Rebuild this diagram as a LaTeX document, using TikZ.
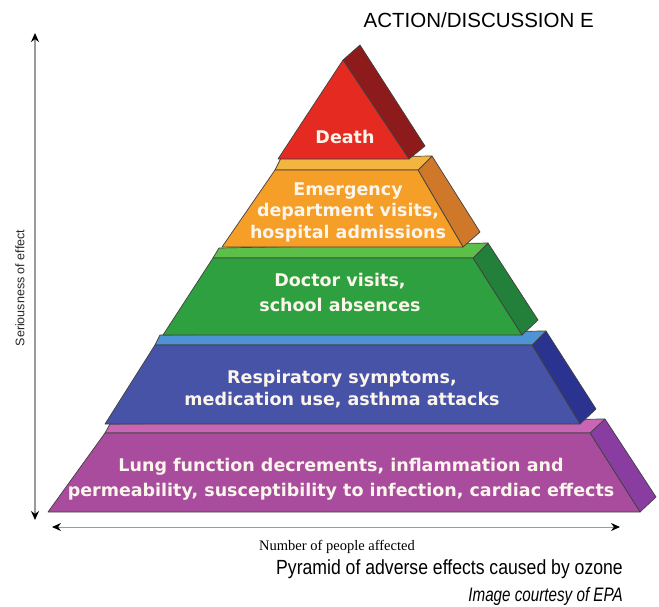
\documentclass[tikz,border=0pt]{standalone}
\usepackage{fontspec}
\setmainfont{Liberation Sans}
\newfontfamily\tierfont{DejaVu Sans}
\newfontfamily\axisserif{Liberation Serif}
\newfontfamily\capfont{Liberation Sans}[FakeStretch=0.86]
\newfontfamily\creditfont{Liberation Sans}[FakeStretch=0.78]
\usetikzlibrary{arrows.meta}

% tier colours: front face, top strip, side face
\definecolor{redF}{HTML}{E52A21}
\definecolor{redS}{HTML}{8E1B1B}
\definecolor{oraF}{HTML}{F59E28}
\definecolor{oraT}{HTML}{F2B540}
\definecolor{oraS}{HTML}{D0782A}
\definecolor{grnF}{HTML}{2EA03F}
\definecolor{grnT}{HTML}{5BBF4A}
\definecolor{grnS}{HTML}{23803A}
\definecolor{bluF}{HTML}{4653A6}
\definecolor{bluT}{HTML}{4E93D4}
\definecolor{bluS}{HTML}{2B3390}
\definecolor{purF}{HTML}{A94C9E}
\definecolor{purT}{HTML}{C865B5}
\definecolor{purS}{HTML}{8A3DA0}
\definecolor{labelwhite}{HTML}{FBF5EC}
\definecolor{axisgray}{HTML}{9A9A9A}

\tikzset{
  face/.style={draw=black!75, line width=0.7pt, line join=round, fill=#1},
  tierlabel/.style={font=\tierfont\bfseries\fontsize{17.5}{21.5}\selectfont,
    text=labelwhite, align=center, inner sep=0pt},
  axisline/.style={draw=axisgray, line width=1.4pt},
  axtip/.tip={Stealth[length=9pt,width=8pt,black]},
}

\begin{document}
\begin{tikzpicture}[x=1pt,y=-1pt]
\useasboundingbox (0,0) rectangle (659,606);

% ---- bottom tier (purple)
\path[face=purS] (590,433) -- (605,419) -- (656,497) -- (640,512) -- cycle;
\path[face=purT] (105,433) -- (110,424) -- (605,419) -- (590,433) -- cycle;
\path[face=purF] (48,512) -- (105,433) -- (590,433) -- (640,512) -- cycle;

% ---- fourth tier (blue)
\path[face=bluS] (532,345) -- (546,331) -- (596,409) -- (580,424) -- cycle;
\path[face=bluT] (155,345) -- (160,335) -- (546,331) -- (532,345) -- cycle;
\path[face=bluF] (105,424) -- (155,345) -- (532,345) -- (580,424) -- cycle;

% ---- third tier (green)
\path[face=grnS] (473,258) -- (488,243) -- (538,320) -- (522,335) -- cycle;
\path[face=grnT] (213,258) -- (219,248) -- (488,243) -- (473,258) -- cycle;
\path[face=grnF] (163,335) -- (213,258) -- (473,258) -- (522,335) -- cycle;

% ---- second tier (orange)
\path[face=oraS] (418,170) -- (432,156) -- (480,232) -- (463,247) -- cycle;
\path[face=oraT] (275,170) -- (281,158) -- (432,156) -- (418,170) -- cycle;
\path[face=oraF] (222,247) -- (275,170) -- (418,170) -- (463,247) -- cycle;

% ---- apex (red)
\path[face=redS] (343,60) -- (360,45) -- (425,146) -- (409,159) -- cycle;
\path[face=redF] (278,159) -- (343,60) -- (409,159) -- cycle;

% ---- tier labels
\node[tierlabel] (death) at (345,137) {Death};
\node[tierlabel] (emerg) at (348,212) {Emergency\\department visits,\\hospital admissions};
\node[tierlabel, font=\tierfont\bfseries\fontsize{17.5}{25}\selectfont] (doctor) at (340,292) {Doctor visits,\\school absences};
\node[tierlabel] (resp) at (342,389) {Respiratory symptoms,\\medication use, asthma attacks};
\node[tierlabel, font=\tierfont\bfseries\fontsize{17.5}{25}\selectfont] (lung) at (341,479) {Lung function decrements, inflammation and\\permeability, susceptibility to infection, cardiac effects};

% ---- axes
\coordinate (vtop) at (35,33);
\coordinate (vbot) at (35,520);
\coordinate (hleft) at (52,527);
\coordinate (hright) at (620,527);
\draw[axisline, axtip-axtip] (vbot) -- (vtop);
\draw[axisline, line width=1pt, axtip-axtip] (hleft) -- (hright);

\node[rotate=90, font=\fontsize{12.5}{14}\selectfont, text=black!85] (ylab) at (20,288) {Seriousness of effect};
\node[font=\axisserif\fontsize{14.5}{16}\selectfont] (xlab) at (337,547) {Number of people affected};

% ---- heading and caption
\node[font=\fontsize{20.5}{22}\selectfont, anchor=east, inner sep=0pt] (head) at (594,20) {ACTION/DISCUSSION E};
\node[font=\capfont\fontsize{20.5}{22}\selectfont, anchor=east, inner sep=0pt] (cap) at (623,569) {Pyramid of adverse effects caused by ozone};
\node[font=\creditfont\itshape\fontsize{19.5}{22}\selectfont, anchor=east, inner sep=0pt] (credit) at (623,596) {Image courtesy of EPA};
\end{tikzpicture}
\end{document}
